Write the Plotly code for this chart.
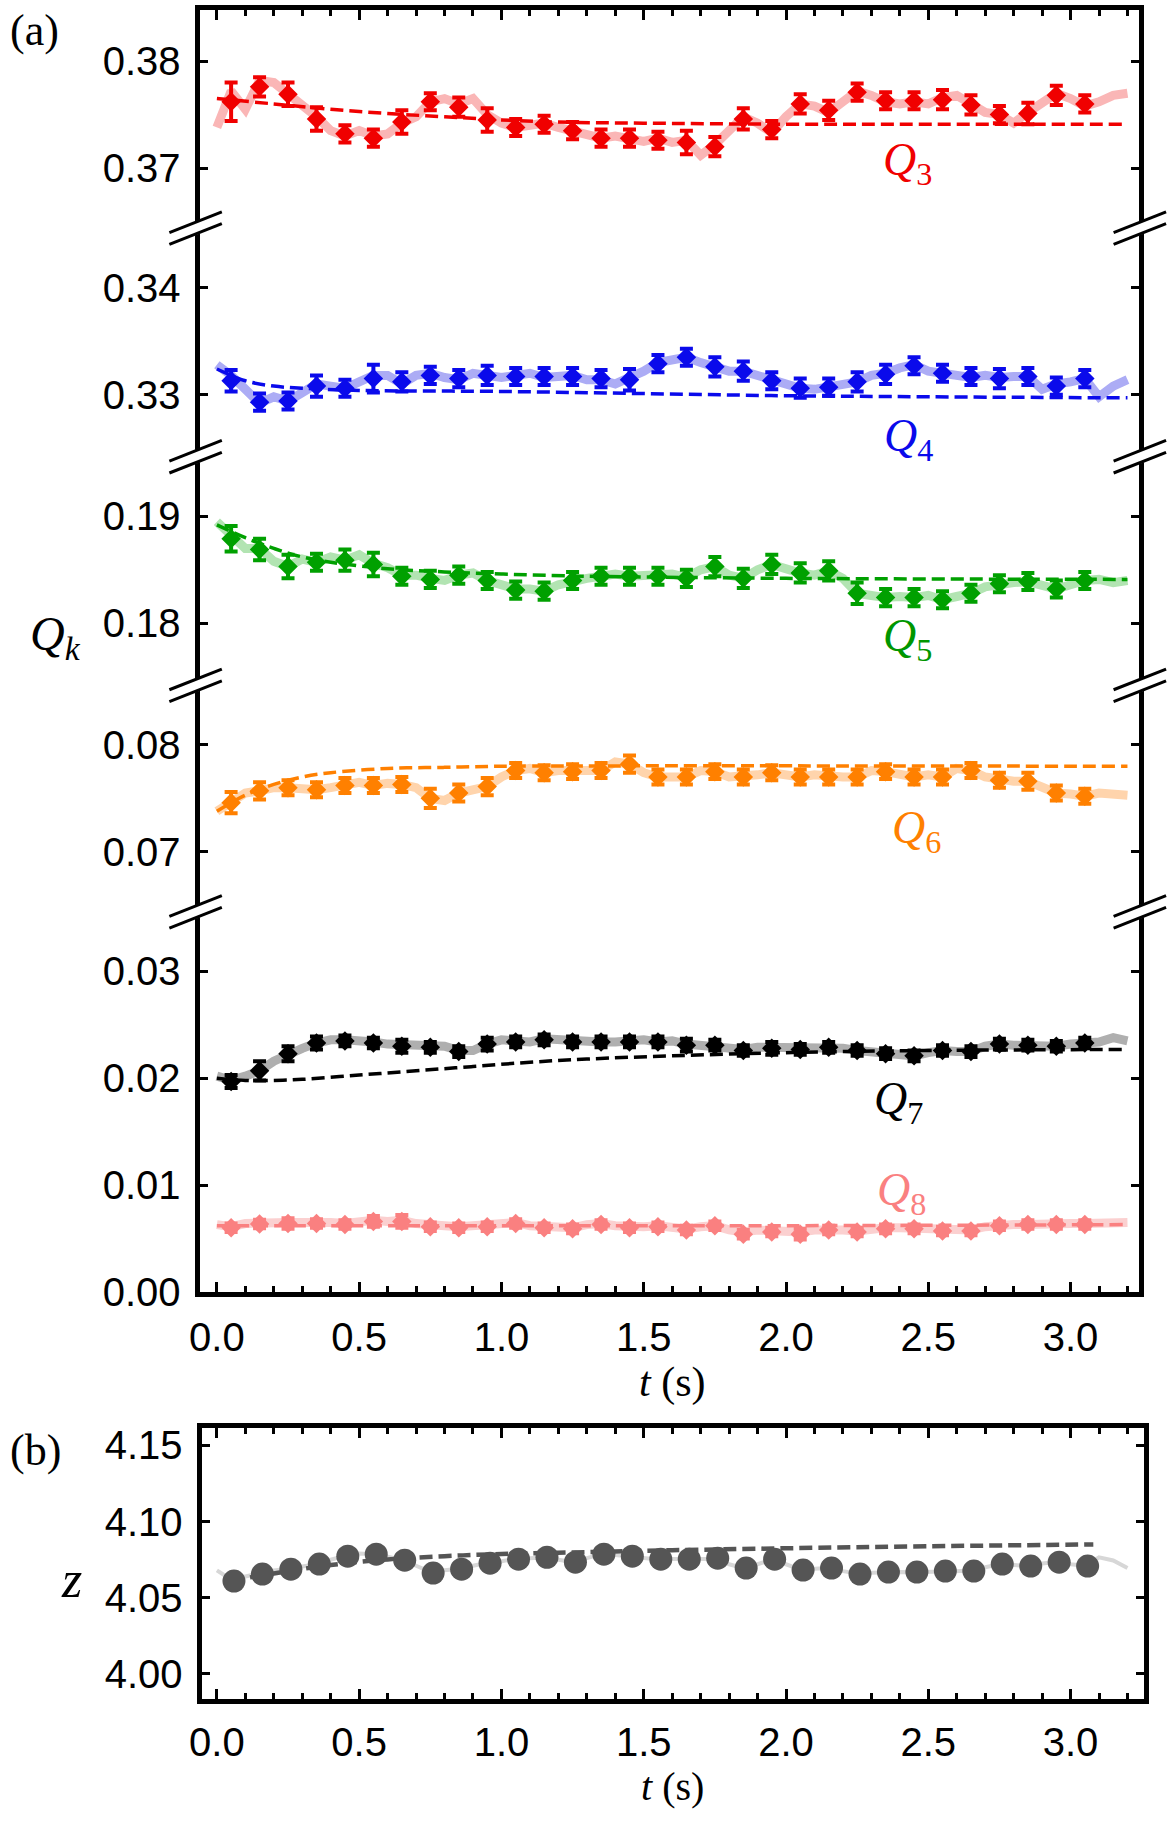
import plotly.graph_objects as go

W, H = 1173, 1828

# ---------------- data ----------------
t_points_a = [0.05, 0.15, 0.25, 0.35, 0.45, 0.55, 0.65, 0.75, 0.85, 0.95, 1.05, 1.15, 1.25, 1.35, 1.45, 1.55,
              1.65, 1.75, 1.85, 1.95, 2.05, 2.15, 2.25, 2.35, 2.45, 2.55, 2.65, 2.75, 2.85, 2.95, 3.05]
t_points_b = [0.06, 0.16, 0.26, 0.36, 0.46, 0.56, 0.66, 0.76, 0.86, 0.96, 1.06, 1.16, 1.26, 1.36, 1.46, 1.56,
              1.66, 1.76, 1.86, 1.96, 2.06, 2.16, 2.26, 2.36, 2.46, 2.56, 2.66, 2.76, 2.86, 2.96, 3.06]
t_trace = [0.00, 0.05, 0.10, 0.15, 0.20, 0.25, 0.30, 0.35, 0.40, 0.45, 0.50, 0.55, 0.60, 0.65, 0.70, 0.75,
           0.80, 0.85, 0.90, 0.95, 1.00, 1.05, 1.10, 1.15, 1.20, 1.25, 1.30, 1.35, 1.40, 1.45, 1.50, 1.55,
           1.60, 1.65, 1.70, 1.75, 1.80, 1.85, 1.90, 1.95, 2.00, 2.05, 2.10, 2.15, 2.20, 2.25, 2.30, 2.35,
           2.40, 2.45, 2.50, 2.55, 2.60, 2.65, 2.70, 2.75, 2.80, 2.85, 2.90, 2.95, 3.00, 3.05, 3.10, 3.15, 3.20]

q3_points = [0.3762, 0.3776, 0.3769, 0.3746, 0.3732, 0.3728, 0.3743, 0.3762, 0.3757, 0.3745, 0.3738, 0.3741,
             0.3735, 0.3728, 0.3728, 0.3726, 0.3724, 0.3720, 0.3746, 0.3736, 0.3760, 0.3754, 0.3771, 0.3763,
             0.3763, 0.3764, 0.3759, 0.3750, 0.3751, 0.3768, 0.3760]
q3_err = [0.0018, 0.0009, 0.0011, 0.0011, 0.0008, 0.0008, 0.0011, 0.0008, 0.0009, 0.0011, 0.0008, 0.0008,
          0.0008, 0.0008, 0.0008, 0.0008, 0.0011, 0.0009, 0.0010, 0.0008, 0.0009, 0.0009, 0.0008, 0.0008,
          0.0008, 0.0009, 0.0009, 0.0008, 0.0010, 0.0009, 0.0008]
q3_trace = [0.3738, 0.3772, 0.3755, 0.3782, 0.3780, 0.3770, 0.3760, 0.3748, 0.3735, 0.3730,
            0.3735, 0.3730, 0.3732, 0.3742, 0.3748, 0.3762, 0.3765, 0.3760, 0.3765, 0.3750,
            0.3742, 0.3738, 0.3740, 0.3742, 0.3738, 0.3735, 0.3730, 0.3728, 0.3730, 0.3728,
            0.3725, 0.3728, 0.3724, 0.3726, 0.3712, 0.3722, 0.3735, 0.3748, 0.3742, 0.3733,
            0.3748, 0.3760, 0.3758, 0.3752, 0.3762, 0.3772, 0.3768, 0.3762, 0.3760, 0.3762,
            0.3760, 0.3766, 0.3768, 0.3760, 0.3752, 0.3750, 0.3742, 0.3752, 0.3760, 0.3770,
            0.3765, 0.3758, 0.3762, 0.3768, 0.3770]
q3_fit_t = [0.0, 0.2, 0.4, 0.6, 0.8, 1.0, 1.2, 1.5, 2.0, 2.5, 3.2]
q3_fit = [0.3765, 0.3760, 0.3755, 0.3751, 0.3748, 0.3745, 0.3743, 0.3742, 0.3741, 0.3741, 0.3741]

q4_points = [0.3313, 0.3293, 0.3294, 0.3308, 0.3306, 0.3315, 0.3312, 0.3318, 0.3315, 0.3318, 0.3317, 0.3317,
             0.3317, 0.3315, 0.3314, 0.3329, 0.3335, 0.3326, 0.3322, 0.3313, 0.3306, 0.3307, 0.3312, 0.3319,
             0.3327, 0.3320, 0.3317, 0.3315, 0.3317, 0.3308, 0.3315]
q4_err = [0.0010, 0.0008, 0.0008, 0.0010, 0.0008, 0.0013, 0.0009, 0.0008, 0.0008, 0.0009, 0.0008, 0.0008,
          0.0008, 0.0008, 0.0010, 0.0008, 0.0008, 0.0009, 0.0009, 0.0008, 0.0009, 0.0008, 0.0009, 0.0009,
          0.0008, 0.0008, 0.0008, 0.0009, 0.0008, 0.0008, 0.0008]
q4_trace = [0.3328, 0.3318, 0.3305, 0.3292, 0.3298, 0.3294, 0.3302, 0.3310, 0.3308, 0.3306,
            0.3312, 0.3318, 0.3318, 0.3310, 0.3318, 0.3320, 0.3316, 0.3314, 0.3320, 0.3318,
            0.3316, 0.3318, 0.3320, 0.3316, 0.3316, 0.3318, 0.3314, 0.3314, 0.3310, 0.3315,
            0.3322, 0.3330, 0.3332, 0.3335, 0.3330, 0.3326, 0.3322, 0.3322, 0.3318, 0.3312,
            0.3310, 0.3306, 0.3305, 0.3307, 0.3310, 0.3312, 0.3318, 0.3320, 0.3325, 0.3328,
            0.3322, 0.3320, 0.3318, 0.3316, 0.3318, 0.3316, 0.3317, 0.3317, 0.3305, 0.3310,
            0.3312, 0.3315, 0.3298, 0.3308, 0.3314]
q4_fit_t = [0.0, 0.1, 0.2, 0.3, 0.5, 1.0, 1.5, 2.0, 2.5, 3.2]
q4_fit = [0.3324, 0.3313, 0.3308, 0.3306, 0.3304, 0.3303, 0.3301, 0.3299, 0.3298, 0.3297]

q5_points = [0.1879, 0.1869, 0.1853, 0.1857, 0.1859, 0.1855, 0.1844, 0.1841, 0.1845, 0.1840, 0.1831, 0.1830,
             0.1840, 0.1844, 0.1844, 0.1844, 0.1842, 0.1853, 0.1842, 0.1855, 0.1847, 0.1849, 0.1828, 0.1824,
             0.1824, 0.1822, 0.1828, 0.1837, 0.1839, 0.1832, 0.1840]
q5_err = [0.0012, 0.0010, 0.0011, 0.0008, 0.0010, 0.0011, 0.0008, 0.0008, 0.0008, 0.0008, 0.0008, 0.0008,
          0.0008, 0.0008, 0.0008, 0.0008, 0.0008, 0.0009, 0.0009, 0.0009, 0.0009, 0.0009, 0.0010, 0.0008,
          0.0008, 0.0008, 0.0008, 0.0008, 0.0008, 0.0008, 0.0008]
q5_trace = [0.1895, 0.1883, 0.1870, 0.1870, 0.1858, 0.1853, 0.1860, 0.1857, 0.1862, 0.1859,
            0.1864, 0.1856, 0.1852, 0.1845, 0.1845, 0.1842, 0.1840, 0.1845, 0.1847, 0.1840,
            0.1835, 0.1832, 0.1832, 0.1830, 0.1836, 0.1840, 0.1842, 0.1844, 0.1846, 0.1844,
            0.1844, 0.1844, 0.1846, 0.1843, 0.1850, 0.1853, 0.1845, 0.1842, 0.1850, 0.1855,
            0.1850, 0.1847, 0.1845, 0.1849, 0.1842, 0.1828, 0.1826, 0.1824, 0.1825, 0.1824,
            0.1826, 0.1822, 0.1825, 0.1828, 0.1834, 0.1837, 0.1838, 0.1839, 0.1836, 0.1832,
            0.1836, 0.1840, 0.1841, 0.1838, 0.1840]
q5_fit_t = [0.0, 0.1, 0.2, 0.3, 0.4, 0.6, 0.8, 1.0, 1.3, 2.0, 3.2]
q5_fit = [0.1892, 0.1880, 0.1870, 0.1862, 0.1857, 0.1851, 0.1848, 0.1846, 0.1844, 0.1842, 0.1841]

q6_points = [0.0746, 0.0757, 0.0760, 0.0758, 0.0762, 0.0762, 0.0763, 0.0750, 0.0755, 0.0761, 0.0776, 0.0774,
             0.0775, 0.0776, 0.0782, 0.0770, 0.0770, 0.0775, 0.0770, 0.0774, 0.0770, 0.0770, 0.0770, 0.0775,
             0.0770, 0.0770, 0.0776, 0.0767, 0.0766, 0.0755, 0.0752]
q6_err = [0.0010, 0.0008, 0.0007, 0.0007, 0.0007, 0.0007, 0.0007, 0.0009, 0.0008, 0.0008, 0.0007, 0.0007,
          0.0007, 0.0007, 0.0008, 0.0007, 0.0007, 0.0007, 0.0007, 0.0007, 0.0007, 0.0007, 0.0007, 0.0007,
          0.0007, 0.0007, 0.0007, 0.0007, 0.0008, 0.0007, 0.0007]
q6_trace = [0.0738, 0.0746, 0.0755, 0.0757, 0.0760, 0.0760, 0.0758, 0.0758, 0.0760, 0.0762,
            0.0765, 0.0762, 0.0764, 0.0763, 0.0760, 0.0750, 0.0748, 0.0755, 0.0758, 0.0761,
            0.0770, 0.0776, 0.0778, 0.0774, 0.0776, 0.0775, 0.0776, 0.0776, 0.0784, 0.0782,
            0.0774, 0.0770, 0.0770, 0.0770, 0.0776, 0.0775, 0.0770, 0.0770, 0.0772, 0.0774,
            0.0772, 0.0770, 0.0772, 0.0770, 0.0770, 0.0770, 0.0776, 0.0775, 0.0772, 0.0770,
            0.0772, 0.0770, 0.0778, 0.0776, 0.0770, 0.0767, 0.0766, 0.0766, 0.0760, 0.0755,
            0.0754, 0.0752, 0.0755, 0.0754, 0.0753]
q6_fit_t = [0.0, 0.1, 0.2, 0.3, 0.4, 0.6, 0.8, 1.0, 3.2]
q6_fit = [0.0738, 0.0753, 0.0763, 0.0770, 0.0774, 0.0778, 0.0779, 0.0780, 0.0780]

q7_points = [0.0197, 0.0207, 0.0223, 0.0233, 0.0235, 0.0233, 0.0230, 0.0229, 0.0225, 0.0232, 0.0234, 0.0236,
             0.0234, 0.0234, 0.0234, 0.0234, 0.0231, 0.0231, 0.0226, 0.0228, 0.0227, 0.0229, 0.0226, 0.0223,
             0.0221, 0.0226, 0.0225, 0.0232, 0.0231, 0.0230, 0.0233]
q7_err = [0.0006, 0.0009, 0.0007, 0.0006, 0.0005, 0.0005, 0.0006, 0.0005, 0.0005, 0.0006, 0.0005, 0.0005,
          0.0005, 0.0005, 0.0005, 0.0005, 0.0006, 0.0005, 0.0005, 0.0006, 0.0005, 0.0005, 0.0005, 0.0005,
          0.0005, 0.0005, 0.0005, 0.0005, 0.0005, 0.0005, 0.0005]
q7_trace = [0.0202, 0.0198, 0.0202, 0.0207, 0.0216, 0.0223, 0.0228, 0.0233, 0.0236, 0.0236,
            0.0236, 0.0234, 0.0232, 0.0231, 0.0230, 0.0229, 0.0230, 0.0226, 0.0226, 0.0232,
            0.0236, 0.0235, 0.0234, 0.0237, 0.0236, 0.0234, 0.0235, 0.0234, 0.0234, 0.0235,
            0.0236, 0.0234, 0.0235, 0.0232, 0.0231, 0.0231, 0.0229, 0.0227, 0.0229, 0.0229,
            0.0230, 0.0228, 0.0228, 0.0229, 0.0228, 0.0226, 0.0225, 0.0223, 0.0223, 0.0221,
            0.0224, 0.0226, 0.0225, 0.0225, 0.0230, 0.0232, 0.0231, 0.0231, 0.0229, 0.0230,
            0.0232, 0.0233, 0.0234, 0.0238, 0.0235]
q7_fit_t = [0.0, 0.1, 0.2, 0.3, 0.5, 0.7, 0.9, 1.1, 1.3, 1.6, 2.0, 2.5, 3.2]
q7_fit = [0.0200, 0.0198, 0.0198, 0.0199, 0.0203, 0.0207, 0.0211, 0.0215, 0.0218, 0.0221, 0.0224, 0.0226, 0.0227]

q8_points = [0.0060, 0.00635, 0.0064, 0.0064, 0.0063, 0.0066, 0.0066, 0.0061, 0.0060, 0.0061, 0.0064, 0.0060,
             0.0059, 0.0063, 0.0060, 0.0061, 0.0058, 0.0062, 0.0054, 0.0056, 0.0054, 0.0058, 0.0056, 0.0059,
             0.0059, 0.0057, 0.0057, 0.0062, 0.0063, 0.0063, 0.0063]
q8_err = [0.0004, 0.0004, 0.0005, 0.0004, 0.0004, 0.0005, 0.0006, 0.0004, 0.0004, 0.0004, 0.0004, 0.0004,
          0.0004, 0.0004, 0.0004, 0.0004, 0.0004, 0.0004, 0.0004, 0.0004, 0.0005, 0.0004, 0.0004, 0.0004,
          0.0004, 0.0004, 0.0004, 0.0004, 0.0004, 0.0004, 0.0004]
q8_trace = [0.0063, 0.0061, 0.0064, 0.0065, 0.0066, 0.0065, 0.0065, 0.0066, 0.0065, 0.0064,
            0.0066, 0.0067, 0.0066, 0.0067, 0.0064, 0.0062, 0.0062, 0.0061, 0.0062, 0.0062,
            0.0064, 0.0065, 0.0062, 0.0061, 0.0060, 0.0060, 0.0063, 0.0064, 0.0062, 0.0061,
            0.0061, 0.0062, 0.0060, 0.0059, 0.0061, 0.0062, 0.0058, 0.0056, 0.0058, 0.0057,
            0.0057, 0.0056, 0.0058, 0.0059, 0.0058, 0.0057, 0.0059, 0.0060, 0.0060, 0.0060,
            0.0059, 0.0058, 0.0058, 0.0058, 0.0061, 0.0063, 0.0063, 0.0063, 0.0064, 0.0064,
            0.0064, 0.0064, 0.0065, 0.0066, 0.0065]
q8_fit_t = [0.0, 1.0, 2.0, 3.2]
q8_fit = [0.0062, 0.0062, 0.0062, 0.0063]

z_points = [4.0610, 4.0656, 4.0688, 4.0721, 4.0773, 4.0786, 4.0747, 4.0662, 4.0688, 4.0727, 4.0753, 4.0766,
            4.0734, 4.0786, 4.0773, 4.0753, 4.0753, 4.0760, 4.0695, 4.0753, 4.0682, 4.0695, 4.0656, 4.0669,
            4.0669, 4.0675, 4.0675, 4.0721, 4.0708, 4.0734, 4.0708]
z_trace = [4.0680, 4.0620, 4.0640, 4.0660, 4.0680, 4.0690, 4.0705, 4.0720, 4.0750, 4.0775,
           4.0790, 4.0785, 4.0770, 4.0750, 4.0710, 4.0670, 4.0680, 4.0690, 4.0710, 4.0730,
           4.0740, 4.0755, 4.0760, 4.0765, 4.0750, 4.0735, 4.0760, 4.0785, 4.0780, 4.0770,
           4.0760, 4.0752, 4.0755, 4.0755, 4.0760, 4.0755, 4.0720, 4.0695, 4.0720, 4.0750,
           4.0720, 4.0685, 4.0690, 4.0695, 4.0675, 4.0660, 4.0665, 4.0670, 4.0670, 4.0668,
           4.0672, 4.0675, 4.0675, 4.0678, 4.0700, 4.0720, 4.0715, 4.0710, 4.0725, 4.0735,
           4.0720, 4.0710, 4.0765, 4.0745, 4.0695]
z_fit_t = [0.05, 0.2, 0.4, 0.6, 0.8, 1.0, 1.3, 1.6, 2.0, 2.5, 3.08]
z_fit = [4.0612, 4.0660, 4.0715, 4.0752, 4.0773, 4.0787, 4.0800, 4.0812, 4.0825, 4.0838, 4.0850]

x_ticks = [0.0, 0.5, 1.0, 1.5, 2.0, 2.5, 3.0]
z_ticks = [4.00, 4.05, 4.10, 4.15]

# ---------------- layout helpers ----------------
def px_x(p):
    return p / W

def px_y(p):
    return 1 - p / H

T0_PX, PX_PER_S = 207.0, 287.5       # x-axis calibration (pixel of t=0, pixels per second)
SEG_PX_PER_UNIT = 10850.0            # shared y scale of the broken axis

# panel (a) plot area (inner edges of the frame)
A_L, A_R, A_T, A_B = 189.5, 1138.5, 5.0, 1306.5
# panel (b)
B_L, B_R, B_T, B_B = 191.5, 1143.5, 1444.5, 1719.5

# broken-axis segments: (ref value, ref pixel, top px, bottom px, tick values)
segments = [
    (0.38, 57.0, A_T, 220.0, [0.37, 0.38]),
    (0.34, 287.0, 232.0, 452.0, [0.33, 0.34]),
    (0.19, 519.0, 464.0, 684.0, [0.18, 0.19]),
    (0.08, 751.0, 696.0, 914.0, [0.07, 0.08]),
    (0.03, 981.0, 926.0, A_B, [0.00, 0.01, 0.02, 0.03]),
]
breaks_px = [226.0, 458.0, 690.0, 920.0]

tick_font = dict(family="Liberation Sans, Arial, sans-serif", size=40, color="black")
serif = "Liberation Serif, Times New Roman, serif"

fig = go.Figure()

series = [
    # (yaxis, trace, points, err, fit_t, fit, dark, light)
    ("y", q3_trace, q3_points, q3_err, q3_fit_t, q3_fit, "rgb(240,0,0)", "rgb(250,182,182)"),
    ("y2", q4_trace, q4_points, q4_err, q4_fit_t, q4_fit, "rgb(10,10,235)", "rgb(172,172,245)"),
    ("y3", q5_trace, q5_points, q5_err, q5_fit_t, q5_fit, "rgb(0,160,0)", "rgb(178,228,178)"),
    ("y4", q6_trace, q6_points, q6_err, q6_fit_t, q6_fit, "rgb(255,128,0)", "rgb(255,212,172)"),
    ("y5", q7_trace, q7_points, q7_err, q7_fit_t, q7_fit, "rgb(0,0,0)", "rgb(175,175,175)"),
    ("y5", q8_trace, q8_points, q8_err, q8_fit_t, q8_fit, "rgb(250,128,128)", "rgb(251,208,208)"),
]

for yax, tr, pts, err, ft, fv, dark, light in series:
    fig.add_trace(go.Scatter(x=t_trace, y=tr, mode="lines", xaxis="x", yaxis=yax,
                             line=dict(color=light, width=9), hoverinfo="skip", showlegend=False))
for yax, tr, pts, err, ft, fv, dark, light in series:
    fig.add_trace(go.Scatter(x=ft, y=fv, mode="lines", xaxis="x", yaxis=yax,
                             line=dict(color=dark, width=3.5, dash="13px,6px", shape="spline"),
                             hoverinfo="skip", showlegend=False))
for yax, tr, pts, err, ft, fv, dark, light in series:
    fig.add_trace(go.Scatter(x=t_points_a, y=pts, mode="markers", xaxis="x", yaxis=yax,
                             marker=dict(symbol="diamond", size=15, color=dark, line=dict(width=0)),
                             error_y=dict(type="data", array=err, visible=True, color=dark,
                                          thickness=4, width=6.5),
                             showlegend=False))

# empty trace to instantiate the top frame axis of panel (a)
fig.add_trace(go.Scatter(x=[], y=[], xaxis="x2", yaxis="y", showlegend=False, hoverinfo="skip"))

# panel (b)
fig.add_trace(go.Scatter(x=t_trace, y=z_trace, mode="lines", xaxis="x3", yaxis="y6",
                         line=dict(color="rgb(215,215,215)", width=4), hoverinfo="skip", showlegend=False))
fig.add_trace(go.Scatter(x=z_fit_t, y=z_fit, mode="lines", xaxis="x3", yaxis="y6",
                         line=dict(color="rgb(85,85,85)", width=4.5, dash="13px,6px", shape="spline"),
                         hoverinfo="skip", showlegend=False))
fig.add_trace(go.Scatter(x=t_points_b, y=z_points, mode="markers", xaxis="x3", yaxis="y6",
                         marker=dict(symbol="circle", size=23, color="rgb(85,85,85)", line=dict(width=0)),
                         showlegend=False))

# ---------------- axes ----------------
common_x = dict(showgrid=False, zeroline=False, showline=True, linewidth=5, linecolor="black",
                ticks="inside", ticklen=10, tickwidth=3, tickcolor="black",
                tickmode="array", tickvals=x_ticks, tickformat=".1f", tickfont=tick_font,
                minor=dict(dtick=0.1, tick0=0, ticks="inside", ticklen=6, tickwidth=2.5,
                           tickcolor="black", showgrid=False))

xa_range = [(A_L - T0_PX) / PX_PER_S, (A_R - T0_PX) / PX_PER_S]
xb_range = [(B_L - T0_PX) / PX_PER_S, (B_R - T0_PX) / PX_PER_S]

layout = dict(
    width=W, height=H, autosize=False,
    margin=dict(l=0, r=0, t=0, b=0, pad=0),
    paper_bgcolor="white", plot_bgcolor="white", showlegend=False,
    xaxis=dict(domain=[px_x(A_L), px_x(A_R)], range=xa_range, anchor="y5",
               ticklabelstandoff=6, **common_x),
    xaxis2=dict(domain=[px_x(A_L), px_x(A_R)], range=xa_range, anchor="y", side="top",
                overlaying="x", showticklabels=False, **common_x),
    xaxis3=dict(domain=[px_x(B_L), px_x(B_R)], range=xb_range, anchor="y6", mirror="ticks",
                ticklabelstandoff=4, **common_x),
)

names = ["yaxis", "yaxis2", "yaxis3", "yaxis4", "yaxis5"]
for name, (rv, rp, top, bot, tv) in zip(names, segments):
    vtop = rv + (rp - top) / SEG_PX_PER_UNIT
    vbot = rv - (bot - rp) / SEG_PX_PER_UNIT
    if tv[0] == 0.0:
        vbot = -0.00003
    layout[name] = dict(domain=[px_y(bot), px_y(top)], range=[vbot, vtop], anchor="x",
                        showgrid=False, zeroline=False, showline=True, linewidth=5, linecolor="black",
                        mirror="ticks", ticks="inside", ticklen=8, tickwidth=3, tickcolor="black",
                        tickmode="array", tickvals=tv, tickformat=".2f", tickfont=tick_font,
                        ticklabelstandoff=6)

z_px_per_unit = (1694.0 - 1462.0) / 0.15
layout["yaxis6"] = dict(domain=[px_y(B_B), px_y(B_T)],
                        range=[4.00 - (B_B - 1694.0) / z_px_per_unit, 4.15 + (1462.0 - B_T) / z_px_per_unit],
                        anchor="x3", showgrid=False, zeroline=False, showline=True, linewidth=5,
                        linecolor="black", mirror="ticks", ticks="inside", ticklen=8, tickwidth=3,
                        tickcolor="black", tickmode="array", tickvals=z_ticks, tickformat=".2f",
                        tickfont=tick_font, ticklabelstandoff=6)

fig.update_layout(**layout)

# ---------------- break marks ----------------
shapes = []
for p in breaks_px:
    for xa in (187.0, 1141.0):
        x1, x2 = xa - 28, xa + 25
        pts = [(xa - 9, p - 6 + 9 * 21 / 53 - 1), (xa + 9, p - 6 - 9 * 21 / 53 - 1),
               (xa + 9, p + 6 - 9 * 21 / 53 + 1), (xa - 9, p + 6 + 9 * 21 / 53 + 1)]
        path = "M " + " L ".join(f"{px_x(a):.5f},{px_y(b):.5f}" for a, b in pts) + " Z"
        shapes.append(dict(type="path", path=path, xref="paper", yref="paper",
                           fillcolor="white", line=dict(width=0), layer="above"))
        for off in (0, 12):
            shapes.append(dict(type="line", xref="paper", yref="paper",
                               x0=px_x(x1), y0=px_y(p + 5 + off), x1=px_x(x2), y1=px_y(p - 16 + off),
                               line=dict(color="black", width=3), layer="above"))
fig.update_layout(shapes=shapes)

# ---------------- text ----------------
def ann(text, xp, yp, size, color="black"):
    return dict(text=text, x=px_x(xp), y=px_y(yp), xref="paper", yref="paper",
                xanchor="center", yanchor="middle", showarrow=False,
                font=dict(family=serif, size=size, color=color))

annotations = [
    ann("(a)", 23, 26, 44),
    ann("(b)", 24, 1467, 44),
    ann("<i>Q</i><sub><i>k</i></sub>", 44, 641, 48),
    ann("<i>z</i>", 60, 1598, 52),
    ann("<i>t</i> (s)", 667, 1398, 42),
    ann("<i>t</i> (s)", 667, 1808, 40),
    ann("<i>Q</i><sub>3</sub>", 905, 160, 46, "rgb(240,0,0)"),
    ann("<i>Q</i><sub>4</sub>", 906, 441, 46, "rgb(10,10,235)"),
    ann("<i>Q</i><sub>5</sub>", 905, 643, 46, "rgb(0,150,0)"),
    ann("<i>Q</i><sub>6</sub>", 914, 838, 46, "rgb(255,128,0)"),
    ann("<i>Q</i><sub>7</sub>", 896, 1113, 46, "black"),
    ann("<i>Q</i><sub>8</sub>", 899, 1206, 46, "rgb(250,128,128)"),
]
fig.update_layout(annotations=annotations)

fig.write_html("out.html")
